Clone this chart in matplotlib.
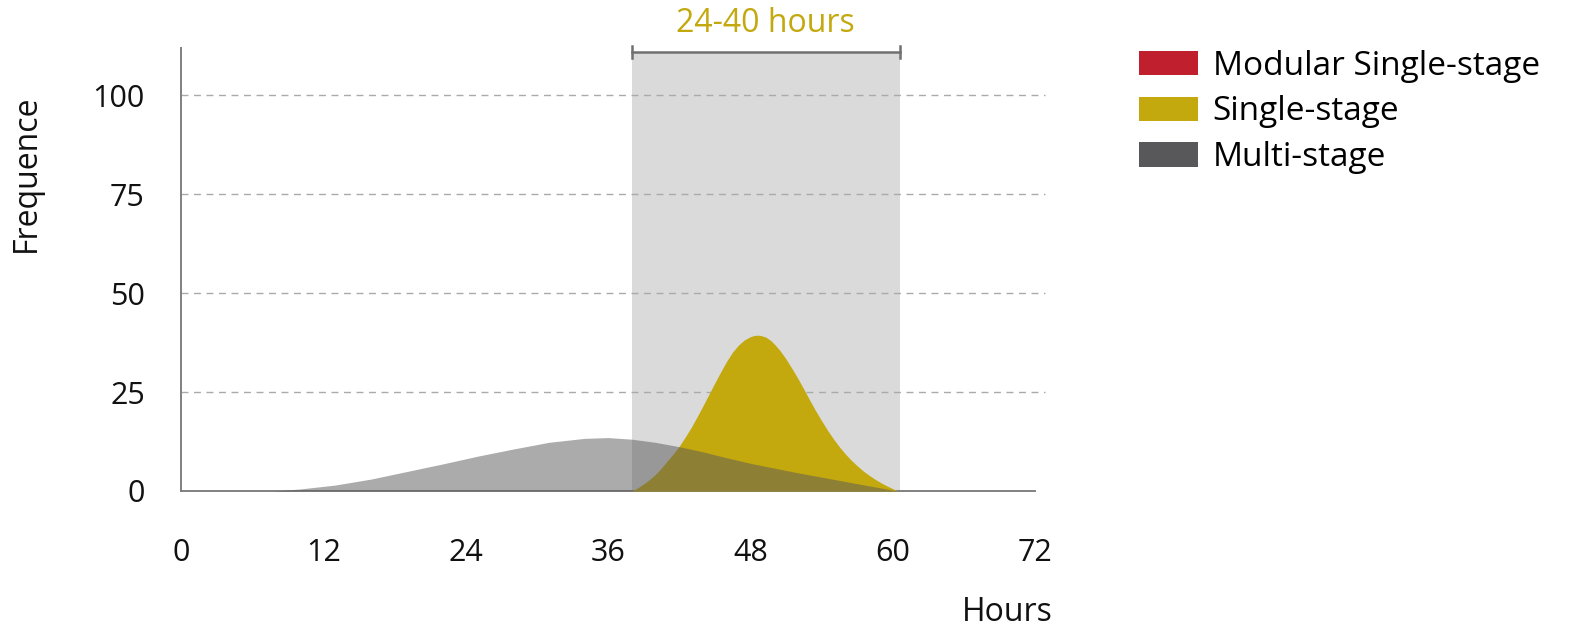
import matplotlib.pyplot as plt
from matplotlib.patches import Patch

plt.rcParams['font.family'] = ['Open Sans', 'DejaVu Sans']

# hours / frequency read for each curve
multi_hours = [7.8, 10, 13, 16, 19, 22, 25, 28, 31, 34, 36, 38, 40, 42, 44, 46, 48, 50, 52, 54, 56, 58, 60.4]
multi_freq = [0.0, 0.5, 1.5, 3.0, 4.9, 6.8, 8.8, 10.6, 12.3, 13.3, 13.5, 13.1, 12.3, 11.2, 9.9, 8.4, 7.0, 5.8, 4.6, 3.5, 2.4, 1.3, 0.0]

single_hours = [38.0, 38.5, 39.0, 39.5, 40.0, 40.5, 41.0, 41.5, 42.0, 42.5, 43.0, 43.5, 44.0, 44.5, 45.0,
                45.5, 46.0, 46.5, 47.0, 47.5, 48.0, 48.3, 48.6, 48.9, 49.3, 49.7, 50.1, 50.5, 51.0,
                51.5, 52.0, 52.5, 53.0, 53.5, 54.0, 54.5, 55.0, 55.5, 56.0, 56.5, 57.0, 57.5, 58.0,
                58.5, 59.0, 59.5, 60.0, 60.4]
single_freq = [0.0, 0.8, 1.8, 2.9, 4.2, 5.8, 7.6, 9.4, 11.3, 13.6, 16.0, 18.7, 21.5, 24.4, 27.3,
               30.1, 32.8, 35.1, 36.9, 38.2, 39.0, 39.3, 39.4, 39.3, 38.9, 38.1, 36.9, 35.5, 33.4,
               31.0, 28.5, 25.8, 23.0, 20.3, 17.8, 15.4, 13.2, 11.2, 9.4, 7.8, 6.4, 5.1, 4.0,
               3.0, 2.1, 1.3, 0.6, 0.0]

band = (38.0, 60.6)
band_label = '24-40 hours'
series_names = ['Modular Single-stage', 'Single-stage', 'Multi-stage']
series_colors = ['#c0202e', '#c3a80e', '#58585a']
x_ticks = [0, 12, 24, 36, 48, 60, 72]
y_ticks = [0, 25, 50, 75, 100]

fig = plt.figure(figsize=(15.77, 6.29), dpi=100)
ax = fig.add_axes([0.1148, 0.2194, 0.5415, 0.7043])
ax.set_xlim(0, 72)
ax.set_ylim(0, 112)

# shaded window with bracket on top
ax.axvspan(band[0], band[1], ymin=0, ymax=111 / 112, color='#dadada', lw=0, zorder=1)
ax.plot([band[0], band[1]], [111, 111], color='#707070', lw=1.8, zorder=3, clip_on=False)
for xb in band:
    ax.plot([xb, xb], [109.5, 112.5], color='#707070', lw=1.8, zorder=3, clip_on=False)
ax.text(sum(band) / 2, 118.3, band_label, color=series_colors[1], fontsize=23,
        ha='center', va='center')

for yv in y_ticks[1:]:
    ax.axhline(yv, xmax=1.012, color='#aaaaaa', lw=1.0, ls=(0, (5, 4)), zorder=2, clip_on=False)

ax.fill_between(single_hours, single_freq, color=series_colors[1], lw=0, zorder=4)
ax.fill_between(multi_hours, multi_freq, color=series_colors[2], alpha=0.5, lw=0, zorder=5)

for side in ['top', 'right']:
    ax.spines[side].set_visible(False)
for side in ['left', 'bottom']:
    ax.spines[side].set_color('#808080')
    ax.spines[side].set_linewidth(1.4)

ax.set_xticks(x_ticks)
ax.set_yticks(y_ticks)
ax.tick_params(axis='x', length=0, pad=34, labelsize=22, labelcolor='#111111')
ax.tick_params(axis='y', length=0, pad=26, labelsize=22, labelcolor='#111111')

fig.text(0.017, 0.725, 'Frequence', rotation=90, fontsize=23, ha='center', va='center', color='#111111')
fig.text(0.639, 0.0, 'Hours', fontsize=23, ha='center', va='bottom', color='#111111')

handles = [Patch(facecolor=c, edgecolor='none') for c in series_colors]
fig.legend(handles, series_names, loc='upper left', bbox_to_anchor=(0.714, 0.942),
           frameon=False, fontsize=24, handlelength=1.75, handleheight=0.75,
           handletextpad=0.45, labelspacing=0.38, borderaxespad=0)

fig.savefig('out.png', dpi=100)
